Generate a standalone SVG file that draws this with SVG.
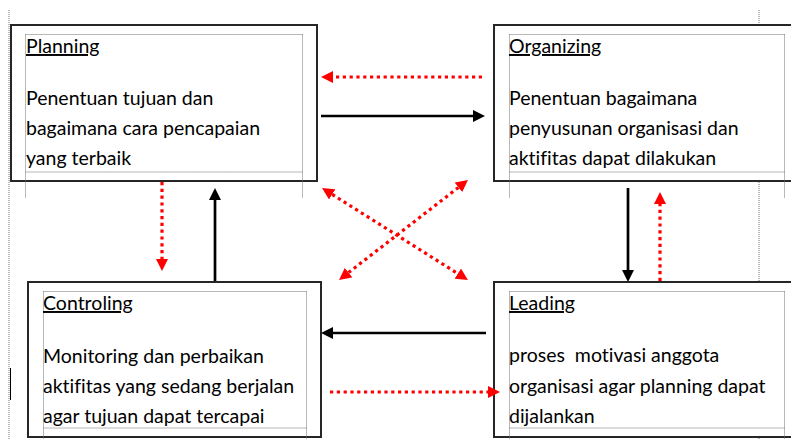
<svg xmlns="http://www.w3.org/2000/svg" width="791" height="439" viewBox="0 0 791 439">
  <style>
    .box { fill: #ffffff; stroke: #262626; stroke-width: 2; }
    .guide { fill: none; stroke: #707070; stroke-width: 1; stroke-dasharray: 1 1; }
    .head { font-family: Lato, "Liberation Sans", sans-serif; font-size: 19.5px; fill: #000; text-decoration: underline; font-variant-ligatures: none; }
    .body { font-family: Lato, "Liberation Sans", sans-serif; font-size: 19.5px; fill: #000; white-space: pre; font-variant-ligatures: none; }
    .solid { fill: none; stroke: #000; stroke-width: 2.7; }
    .dots { fill: none; stroke: #ff0000; stroke-width: 3.2; stroke-dasharray: 3.2 3.6; }
  </style>
  <defs>
    <marker id="arrowBlack" viewBox="0 0 12 12" refX="0" refY="6" markerWidth="12" markerHeight="12" markerUnits="userSpaceOnUse" orient="auto-start-reverse">
      <path d="M0,0 L12,6 L0,12 z" fill="#000"/>
    </marker>
    <marker id="arrowRed" viewBox="0 0 12 12" refX="0" refY="6" markerWidth="12" markerHeight="12" markerUnits="userSpaceOnUse" orient="auto-start-reverse">
      <path d="M0,0 L12,6 L0,12 z" fill="#ff0000"/>
    </marker>
  </defs>

  <rect width="791" height="439" fill="#ffffff"/>

  <!-- page margin guides -->
  <g id="guides">
    <line class="guide" x1="9" y1="10" x2="9" y2="439"/>
    <line class="guide" x1="759" y1="10" x2="759" y2="439"/>
    <line x1="10.5" y1="368" x2="10.5" y2="400" stroke="#000" stroke-width="1"/>
  </g>

  <g id="planning">
    <rect class="box" x="11" y="25" width="306" height="156"/>
    <path class="guide" d="M25.5,34.5 H302.5 M25.5,34.5 V198 M302.5,34.5 V198 M25.5,172 H302.5"/>
    <text class="head" x="26" y="53">Planning</text>
    <text class="body" x="26" y="105">Penentuan tujuan dan</text>
    <text class="body" x="26" y="135">bagaimana cara pencapaian</text>
    <text class="body" x="26" y="165">yang terbaik</text>
  </g>

  <g id="organizing">
    <rect class="box" x="494" y="25" width="310" height="156"/>
    <path class="guide" d="M509.5,34.5 H784.5 M509.5,34.5 V198 M784.5,34.5 V198 M509.5,172 H784.5"/>
    <text class="head" x="509" y="53">Organizing</text>
    <text class="body" x="509" y="105">Penentuan bagaimana</text>
    <text class="body" x="509" y="135">penyusunan organisasi dan</text>
    <text class="body" x="509" y="165">aktifitas dapat dilakukan</text>
  </g>

  <g id="controling">
    <rect class="box" x="28" y="282" width="293" height="155"/>
    <path class="guide" d="M43.5,291.5 H306.5 M43.5,291.5 V439 M306.5,291.5 V439 M43.5,428 H306.5"/>
    <text class="head" x="43" y="310">Controling</text>
    <text class="body" x="43" y="363">Monitoring dan perbaikan</text>
    <text class="body" x="43" y="393">aktifitas yang sedang berjalan</text>
    <text class="body" x="43" y="423">agar tujuan dapat tercapai</text>
  </g>

  <g id="leading">
    <rect class="box" x="494" y="282" width="310" height="155"/>
    <path class="guide" d="M509.5,291.5 H784.5 M509.5,291.5 V439 M784.5,291.5 V439 M509.5,428 H784.5"/>
    <text class="head" x="509" y="310">Leading</text>
    <text class="body" x="509" y="362">proses  motivasi anggota</text>
    <text class="body" x="509" y="393">organisasi agar planning dapat</text>
    <text class="body" x="509" y="423">dijalankan</text>
  </g>

  <g id="connectors">
    <!-- Organizing to Planning (feedback) -->
    <line class="dots" x1="482" y1="77" x2="333" y2="77" marker-end="url(#arrowRed)"/>
    <!-- Planning to Organizing -->
    <line class="solid" x1="321" y1="116" x2="473" y2="116" marker-end="url(#arrowBlack)"/>
    <!-- Planning to Controling (feedback) -->
    <line class="dots" x1="162" y1="182" x2="162" y2="259" marker-end="url(#arrowRed)"/>
    <!-- Controling to Planning -->
    <line class="solid" x1="215" y1="281" x2="215" y2="200" marker-end="url(#arrowBlack)"/>
    <!-- Organizing to Leading -->
    <line class="solid" x1="628" y1="188" x2="628" y2="270" marker-end="url(#arrowBlack)"/>
    <!-- Leading to Organizing (feedback) -->
    <line class="dots" x1="660" y1="281" x2="660" y2="204" marker-end="url(#arrowRed)"/>
    <!-- diagonal links -->
    <line class="dots" x1="332.2" y1="194.4" x2="457.8" y2="273.6" marker-start="url(#arrowRed)" marker-end="url(#arrowRed)"/>
    <line class="dots" x1="458.5" y1="187.4" x2="348.5" y2="272.6" marker-start="url(#arrowRed)" marker-end="url(#arrowRed)"/>
    <!-- Leading to Controling -->
    <line class="solid" x1="486" y1="333" x2="333" y2="333" marker-end="url(#arrowBlack)"/>
    <!-- Controling to Leading (feedback) -->
    <line class="dots" x1="330" y1="392" x2="488" y2="392" marker-end="url(#arrowRed)"/>
  </g>
</svg>
